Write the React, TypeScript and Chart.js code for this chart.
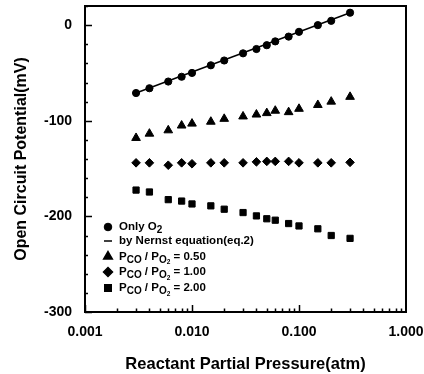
import { useEffect, useRef } from 'react';
import { Chart, registerables } from 'chart.js';
import { drawPoint } from 'chart.js/helpers';

Chart.register(...registerables);

// ---- data ----
const pressures = [0.003, 0.004, 0.006, 0.008, 0.01, 0.015, 0.02, 0.03, 0.04, 0.05, 0.06, 0.08, 0.1, 0.15, 0.2, 0.3];
const onlyO2 = [-71, -66, -59, -54, -50, -42, -37, -29.5, -25, -21, -17, -12, -7, 0, 4.5, 13];
const nernstP = [0.003, 0.3];
const nernstMv = [-71, 13];
const ratio050 = [-118, -113.5, -110, -105, -103, -101, -98, -95.5, -93.5, -92, -89.5, -91, -87.5, -83.5, -80, -75];
const ratio100 = [-144, -144, -146.5, -144, -145, -144, -144, -144, -143, -142.5, -142.5, -142.5, -144, -144, -144, -143.5];
const ratio200 = [-172.5, -174.5, -182.5, -184, -187, -189, -192.5, -196, -199.5, -202.5, -204, -207.5, -210, -213, -220, -223];

const xTicks = [0.001, 0.01, 0.1, 1];
const yTicks = [-300, -200, -100, 0];
const xTitle = 'Reactant Partial Pressure(atm)';
const yTitle = 'Open Circuit Potential(mV)';

// legend rows: text parts [text, level] (0 normal, 1 subscript, 2 sub-subscript)
const legendRows: { style: string; parts: [string, number][] }[] = [
  { style: 'circle', parts: [['Only O', 0], ['2', 1]] },
  { style: 'line', parts: [['by Nernst equation(eq.2)', 0]] },
  { style: 'triangle', parts: [['P', 0], ['CO', 1], [' / P', 0], ['O', 1], ['2', 2], [' = 0.50', 0]] },
  { style: 'rectRot', parts: [['P', 0], ['CO', 1], [' / P', 0], ['O', 1], ['2', 2], [' = 1.00', 0]] },
  { style: 'rect', parts: [['P', 0], ['CO', 1], [' / P', 0], ['O', 1], ['2', 2], [' = 2.00', 0]] },
];

const FONT = '"Liberation Sans", Arial, Helvetica, sans-serif';

const framePlugin = {
  id: 'frameTicks',
  afterDraw(chart: any) {
    const { ctx, chartArea: a, scales } = chart;
    const x = scales.x;
    const y = scales.y;
    ctx.save();
    ctx.strokeStyle = '#000';
    ctx.lineWidth = 2;
    ctx.strokeRect(a.left, a.top, a.right - a.left, a.bottom - a.top);
    ctx.lineWidth = 1.5;
    ctx.beginPath();
    yTicks.forEach((v) => {
      const py = Math.round(y.getPixelForValue(v)) + 0.5;
      ctx.moveTo(a.left, py);
      ctx.lineTo(a.left + 7, py);
    });
    for (let v = -300; v <= 20; v += 20) {
      if (v % 100 === 0) continue;
      const py = Math.round(y.getPixelForValue(v)) + 0.5;
      ctx.moveTo(a.left, py);
      ctx.lineTo(a.left + 3, py);
    }
    xTicks.slice(0, 3).forEach((d) => {
      for (let k = 1; k <= 9; k++) {
        const px = Math.round(x.getPixelForValue(d * k)) + 0.5;
        const len = k === 1 ? 7 : 3.5;
        ctx.moveTo(px, a.bottom);
        ctx.lineTo(px, a.bottom - len);
      }
    });
    ctx.stroke();
    ctx.restore();
  },
};

const legendPlugin = {
  id: 'subLegend',
  afterDraw(chart: any) {
    const { ctx, chartArea: a } = chart;
    const rowYs = [227, 241, 256.5, 272, 288];
    const mx = a.left + 23;
    const tx = a.left + 34;
    ctx.save();
    ctx.fillStyle = '#000';
    ctx.strokeStyle = '#000';
    ctx.textBaseline = 'middle';
    legendRows.forEach((row, i) => {
      const ry = rowYs[i];
      if (row.style === 'line') {
        ctx.lineWidth = 1.5;
        ctx.beginPath();
        ctx.moveTo(mx - 4, ry);
        ctx.lineTo(mx + 4, ry);
        ctx.stroke();
      } else {
        const r = row.style === 'circle' ? 3.8 : row.style === 'triangle' ? 5 : row.style === 'rect' ? 4.6 : 4.5;
        drawPoint(ctx, { pointStyle: row.style as any, radius: r, rotation: 0, borderWidth: 1 }, mx, ry);
      }
      let cx = tx;
      row.parts.forEach(([t, lvl]) => {
        const size = lvl === 0 ? 11.5 : lvl === 1 ? 10 : 6.5;
        const dy = lvl === 0 ? 0 : lvl === 1 ? 3.5 : 6;
        ctx.font = `bold ${size}px ${FONT}`;
        ctx.fillText(t, cx, ry + dy);
        cx += ctx.measureText(t).width;
      });
    });
    ctx.restore();
  },
};

export default function App() {
  const ref = useRef<HTMLCanvasElement | null>(null);
  useEffect(() => {
    if (!ref.current) return;
    const pts = (ys: number[]) => ys.map((v, i) => ({ x: pressures[i], y: v }));
    const common = { showLine: false, backgroundColor: '#000', borderColor: '#000', borderWidth: 1 };
    const chart = new Chart(ref.current, {
      type: 'scatter',
      data: {
        datasets: [
          { label: 'Only O2', data: pts(onlyO2), pointStyle: 'circle', pointRadius: 3.6, ...common },
          {
            label: 'by Nernst equation(eq.2)',
            data: nernstP.map((p, i) => ({ x: p, y: nernstMv[i] })),
            showLine: true,
            pointRadius: 0,
            borderColor: '#000',
            borderWidth: 1.5,
            backgroundColor: '#000',
          },
          { label: 'PCO/PO2 = 0.50', data: pts(ratio050), pointStyle: 'triangle', pointRadius: 5, ...common },
          { label: 'PCO/PO2 = 1.00', data: pts(ratio100), pointStyle: 'rectRot', pointRadius: 4.3, ...common },
          { label: 'PCO/PO2 = 2.00', data: pts(ratio200), pointStyle: 'rect', pointRadius: 4.4, ...common },
        ],
      },
      options: {
        animation: false,
        responsive: false,
        events: [],
        layout: { padding: { left: 0, top: 6, right: 18, bottom: 0 } },
        plugins: { legend: { display: false }, tooltip: { enabled: false } },
        scales: {
          x: {
            type: 'logarithmic',
            min: 0.001,
            max: 1,
            grid: { display: false, drawTicks: false },
            border: { display: false },
            afterBuildTicks: (s: any) => {
              s.ticks = xTicks.map((v) => ({ value: v }));
            },
            afterFit: (s: any) => {
              s.height = 62;
              s.paddingLeft = 0;
              s.paddingRight = 0;
            },
            ticks: {
              color: '#000',
              autoSkip: false,
              maxRotation: 0,
              padding: 12,
              font: { family: FONT, size: 14, weight: 'bold' },
              callback: (v: any) => Number(v).toFixed(3),
            },
            title: {
              display: true,
              text: xTitle,
              color: '#000',
              font: { family: FONT, size: 16.5, weight: 'bold' },
              padding: { top: 0, bottom: 0 },
            },
          },
          y: {
            min: -300,
            max: 20,
            grid: { display: false, drawTicks: false },
            border: { display: false },
            afterBuildTicks: (s: any) => {
              s.ticks = yTicks.map((v) => ({ value: v }));
            },
            afterFit: (s: any) => {
              s.width = 85;
              s.paddingTop = 0;
              s.paddingBottom = 0;
            },
            ticks: {
              color: '#000',
              padding: 13,
              font: { family: FONT, size: 14, weight: 'bold' },
              callback: (v: any) => String(v),
            },
            title: {
              display: true,
              text: yTitle,
              color: '#000',
              font: { family: FONT, size: 16, weight: 'bold' },
              padding: { top: 12, bottom: 0 },
            },
          },
        },
      } as any,
      plugins: [framePlugin, legendPlugin],
    });
    return () => chart.destroy();
  }, []);
  return (
    <div style={{ position: 'fixed', left: 0, top: 0, width: 424, height: 374, background: '#fff' }}>
      <canvas ref={ref} width={424} height={374} />
    </div>
  );
}
